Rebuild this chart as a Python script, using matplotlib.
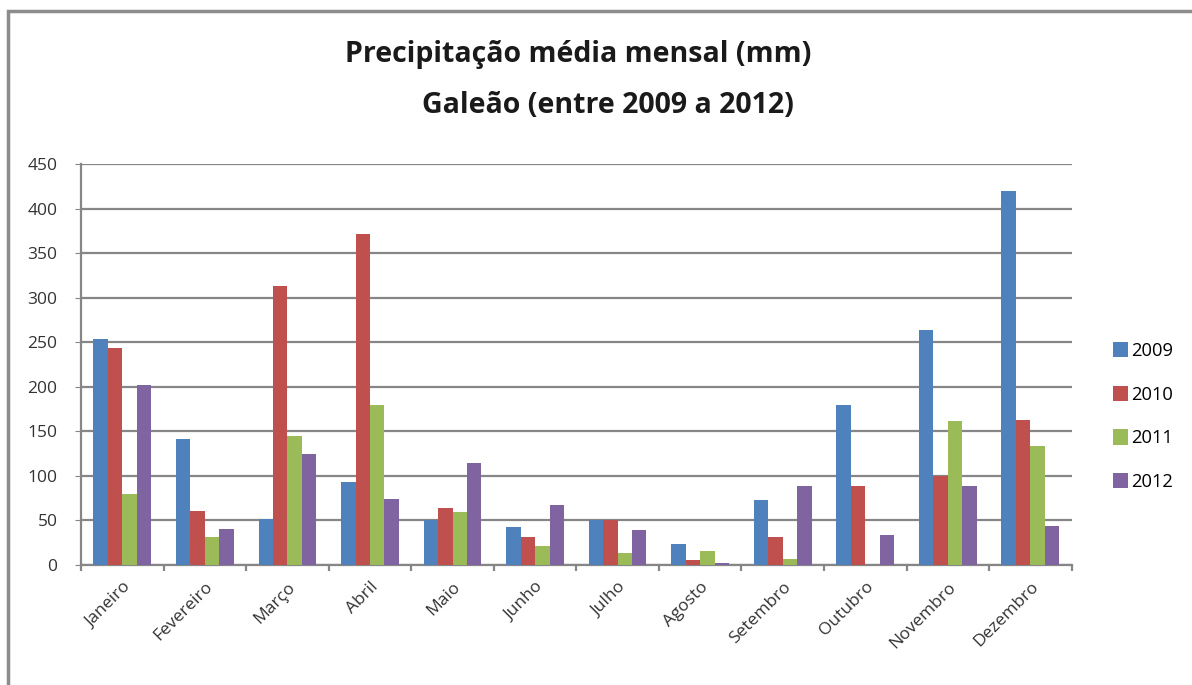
import numpy as np
import matplotlib
matplotlib.use("Agg")
import matplotlib.pyplot as plt
from matplotlib.patches import Rectangle

plt.rcParams['font.family'] = ['Open Sans', 'DejaVu Sans']

# dados (mm)
meses = ['Janeiro', 'Fevereiro', 'Março', 'Abril', 'Maio', 'Junho',
         'Julho', 'Agosto', 'Setembro', 'Outubro', 'Novembro', 'Dezembro']
anos = ['2009', '2010', '2011', '2012']
chuva_2009 = [254, 141, 52, 93, 50, 43, 50, 24, 73, 180, 264, 420]
chuva_2010 = [244, 61, 313, 371, 64, 31, 50, 6, 31, 89, 100, 163]
chuva_2011 = [80, 31, 145, 180, 59, 21, 14, 16, 7, 0, 162, 134]
chuva_2012 = [202, 40, 125, 74, 115, 67, 39, 2, 89, 34, 89, 44]

cores = ['#4F81BD', '#C0504D', '#9BBB59', '#8064A2']
series = [chuva_2009, chuva_2010, chuva_2011, chuva_2012]

fig = plt.figure(figsize=(11.92, 6.85), dpi=100)
ax = fig.add_axes([0.068, 0.1752, 0.831, 0.5854])

x = np.arange(len(meses))
largura = 0.175
for i, (vals, cor, ano) in enumerate(zip(series, cores, anos)):
    ax.bar(x + (i - 1.5) * largura, vals, largura, color=cor, label=ano, zorder=3)

ax.set_xlim(-0.5, len(meses) - 0.5)
ax.set_ylim(0, 450)
ax.set_yticks(np.arange(0, 451, 50))
ax.yaxis.grid(True, color='#868686', linewidth=1.6, zorder=0)
ax.set_axisbelow(True)

for s in ['top', 'right']:
    ax.spines[s].set_visible(False)
for s in ['left', 'bottom']:
    ax.spines[s].set_color('#868686')
    ax.spines[s].set_linewidth(1.6)

ax.tick_params(axis='y', length=4, color='#868686', labelsize=12.5, labelcolor='#333333', pad=13)
ax.set_xticks(x)
ax.set_xticklabels(meses, rotation=45, ha='right', rotation_mode='anchor',
                   fontsize=12.5, color='#333333')
ax.tick_params(axis='x', length=0, pad=10)
ax.set_xticks(np.arange(-0.5, len(meses), 1), minor=True)
ax.tick_params(axis='x', which='minor', length=4, color='#868686', width=1.6)

fig.text(0.485, 0.921, 'Precipitação média mensal (mm)', ha='center', va='center',
         fontsize=20.5, fontweight='bold', color='#1a1a1a')
fig.text(0.51, 0.846, 'Galeão (entre 2009 a 2012)', ha='center', va='center',
         fontsize=20.5, fontweight='bold', color='#1a1a1a')

fig.legend(loc='center left', bbox_to_anchor=(0.92, 0.392), frameon=False,
           handlelength=0.8, handleheight=0.9, handletextpad=0.2,
           labelspacing=1.4, fontsize=13.2)

# moldura do gráfico
fig.patches.append(Rectangle((8 / 1192, -0.01), 1.0, 1 - 11 / 685 + 0.01,
                             transform=fig.transFigure, fill=False,
                             edgecolor='#8c8c8c', linewidth=2.5))

fig.savefig('out.png', dpi=100)
